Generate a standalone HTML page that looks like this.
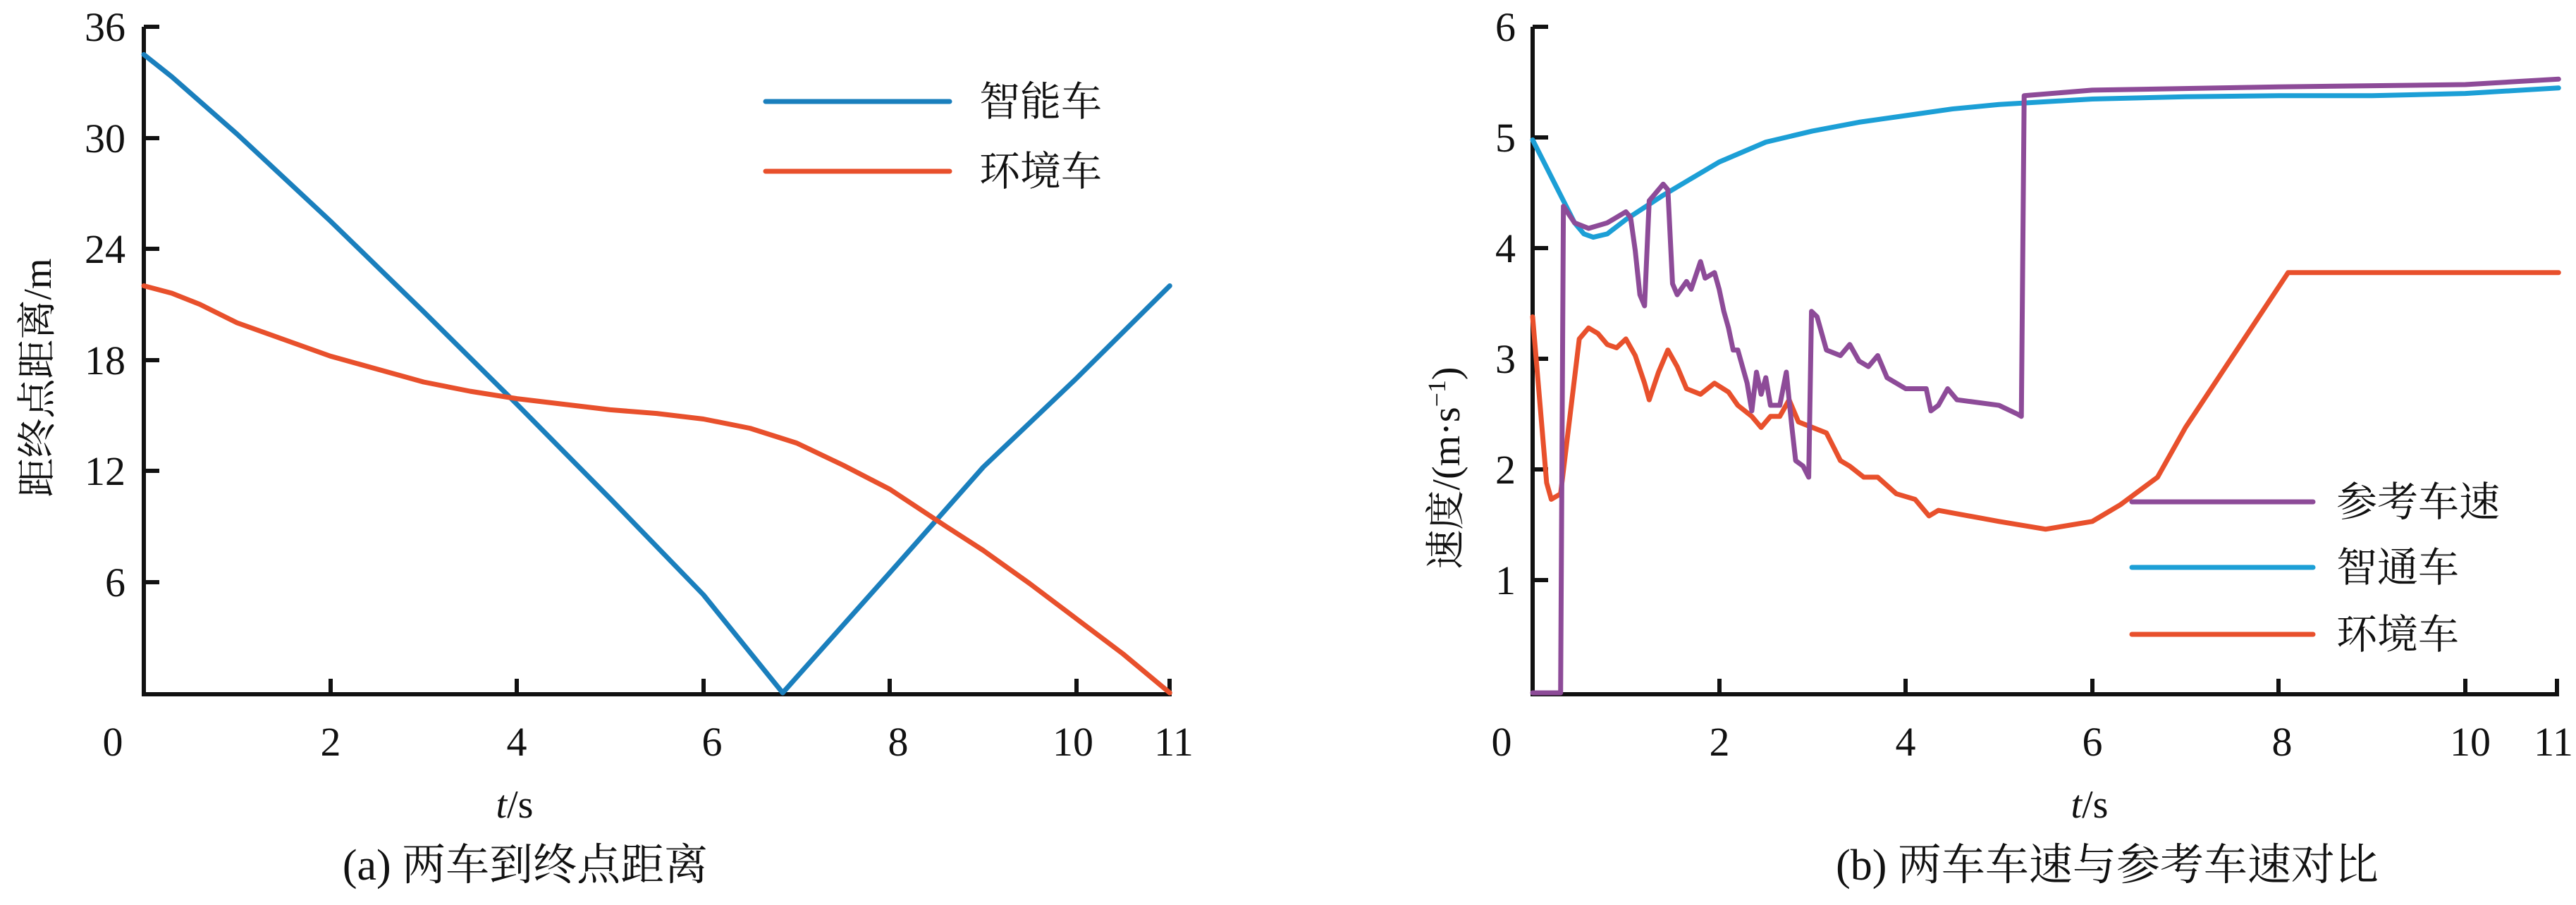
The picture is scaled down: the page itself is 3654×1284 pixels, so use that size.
<!DOCTYPE html>
<html><head><meta charset="utf-8"><style>
html,body{margin:0;padding:0;background:#fff}
svg{display:block}
text{font-family:"Liberation Serif","Noto Serif CJK SC",serif;fill:#111}
.ln{fill:none;vector-effect:non-scaling-stroke;stroke-width:7;stroke-linejoin:round;stroke-linecap:round}
</style></head><body>
<svg width="3654" height="1284" viewBox="0 0 3654 1284" xmlns="http://www.w3.org/2000/svg">
<!-- LEFT PLOT -->
<g stroke="#111" stroke-width="6" fill="none">
<path d="M204 38 V985 H1662"/>
<path d="M204 38h22M204 196h22M204 353h22M204 511h22M204 668h22M204 826h22"/>
<path d="M469 985v-22M733 985v-22M998 985v-22M1262 985v-22M1527 985v-22M1659 985v-22"/>
</g>
<g font-size="58" text-anchor="end">
<text x="178" y="58">36</text><text x="178" y="216">30</text><text x="178" y="373">24</text>
<text x="178" y="531">18</text><text x="178" y="688">12</text><text x="178" y="846">6</text>
</g>
<g font-size="58" text-anchor="middle">
<text x="160" y="1072">0</text><text x="469" y="1072">2</text><text x="733" y="1072">4</text>
<text x="1010" y="1072">6</text><text x="1274" y="1072">8</text><text x="1522" y="1072">10</text><text x="1665" y="1072">11</text>
</g>
<text x="0" y="0" font-size="56" text-anchor="middle" transform="translate(72,536) rotate(-90)">距终点距离/m</text>
<text x="730" y="1160" font-size="56" text-anchor="middle"><tspan font-style="italic">t</tspan>/s</text>
<text x="745" y="1248" font-size="62" text-anchor="middle">(a) 两车到终点距离</text>
<g transform="translate(204,983) scale(132.3,-26.25)">
<polyline class="ln" stroke="#1a7fbd" points="0,34.5 0.3,33.3 1,30.2 2,25.5 3,20.6 4,15.6 5,10.5 6,5.3 6.85,0 8,6.5 9,12.2 10,17 11,22"/>
<polyline class="ln" stroke="#e8502c" points="0,22 0.3,21.6 0.6,21 1,20 1.5,19.1 2,18.2 2.5,17.5 3,16.8 3.5,16.3 4,15.9 4.5,15.6 5,15.3 5.5,15.1 6,14.8 6.5,14.3 7,13.5 7.5,12.3 8,11 8.6,9 9,7.7 9.5,5.9 10,4 10.5,2.1 11,0"/>
</g>
<g>
<line class="ln" x1="1086" y1="144" x2="1347" y2="144" stroke="#1a7fbd"/>
<line class="ln" x1="1086" y1="243" x2="1347" y2="243" stroke="#e8502c"/>
<text x="1389" y="164" font-size="58">智能车</text>
<text x="1389" y="263" font-size="58">环境车</text>
</g>

<!-- RIGHT PLOT -->
<g stroke="#111" stroke-width="6" fill="none">
<path d="M2174 38 V985 H3630"/>
<path d="M2174 38h22M2174 195h22M2174 352h22M2174 509h22M2174 666h22M2174 823h22"/>
<path d="M2439 985v-22M2703 985v-22M2968 985v-22M3232 985v-22M3497 985v-22M3627 985v-22"/>
</g>
<g font-size="58" text-anchor="end">
<text x="2150" y="58">6</text><text x="2150" y="215">5</text><text x="2150" y="372">4</text>
<text x="2150" y="529">3</text><text x="2150" y="686">2</text><text x="2150" y="843">1</text>
</g>
<g font-size="58" text-anchor="middle">
<text x="2130" y="1072">0</text><text x="2439" y="1072">2</text><text x="2703" y="1072">4</text>
<text x="2968" y="1072">6</text><text x="3237" y="1072">8</text><text x="3504" y="1072">10</text><text x="3622" y="1072">11</text>
</g>
<text x="0" y="0" font-size="56" text-anchor="middle" transform="translate(2070,664) rotate(-90)">速度/(m·s<tspan font-size="36" dy="-20">−1</tspan><tspan dy="20">)</tspan></text>
<text x="2964" y="1160" font-size="56" text-anchor="middle"><tspan font-style="italic">t</tspan>/s</text>
<text x="2989" y="1248" font-size="62" text-anchor="middle">(b) 两车车速与参考车速对比</text>
<g transform="translate(2174,983) scale(132.3,-156.9)">
<polyline class="ln" stroke="#1c9fd6" points="0,5 0.15,4.75 0.3,4.5 0.45,4.25 0.55,4.15 0.65,4.12 0.8,4.15 1,4.28 1.4,4.5 1.7,4.65 2,4.8 2.5,4.98 3,5.08 3.5,5.16 4,5.22 4.5,5.28 5,5.32 6,5.37 7,5.39 8,5.4 9,5.4 10,5.42 11,5.47"/>
<polyline class="ln" stroke="#e8502c" points="0,3.4 0.1,2.4 0.15,1.9 0.2,1.75 0.3,1.8 0.4,2.5 0.5,3.2 0.6,3.3 0.7,3.25 0.8,3.15 0.9,3.12 1,3.2 1.1,3.05 1.2,2.8 1.25,2.65 1.35,2.9 1.45,3.1 1.55,2.95 1.65,2.75 1.8,2.7 1.95,2.8 2.1,2.72 2.2,2.6 2.35,2.5 2.45,2.4 2.55,2.5 2.65,2.5 2.75,2.65 2.85,2.45 3,2.4 3.15,2.35 3.3,2.1 3.4,2.05 3.55,1.95 3.7,1.95 3.9,1.8 4.1,1.75 4.25,1.6 4.35,1.65 5,1.55 5.5,1.48 6,1.55 6.3,1.7 6.7,1.95 7,2.4 8.1,3.8 11,3.8"/>
<polyline class="ln" stroke="#8d4b98" points="0,0 0.3,0 0.33,4.4 0.45,4.25 0.6,4.2 0.8,4.25 1,4.35 1.05,4.3 1.1,4 1.15,3.6 1.2,3.5 1.25,4.45 1.3,4.5 1.4,4.6 1.45,4.55 1.5,3.7 1.55,3.6 1.65,3.72 1.7,3.65 1.8,3.9 1.85,3.75 1.95,3.8 2,3.65 2.05,3.45 2.1,3.3 2.15,3.1 2.2,3.1 2.3,2.8 2.35,2.55 2.4,2.9 2.45,2.7 2.5,2.85 2.55,2.6 2.65,2.6 2.72,2.9 2.78,2.4 2.82,2.1 2.9,2.05 2.96,1.95 2.99,3.45 3.05,3.4 3.15,3.1 3.3,3.05 3.4,3.15 3.5,3 3.6,2.95 3.7,3.05 3.8,2.85 4,2.75 4.22,2.75 4.27,2.55 4.35,2.6 4.45,2.75 4.55,2.65 5,2.6 5.2,2.52 5.24,2.5 5.27,5.4 6,5.45 8,5.48 10,5.5 11,5.55"/>
</g>
<g>
<line class="ln" x1="3024" y1="712" x2="3281" y2="712" stroke="#8d4b98"/>
<line class="ln" x1="3024" y1="805" x2="3281" y2="805" stroke="#1c9fd6"/>
<line class="ln" x1="3024" y1="900" x2="3281" y2="900" stroke="#e8502c"/>
<text x="3314" y="732" font-size="58">参考车速</text>
<text x="3314" y="825" font-size="58">智通车</text>
<text x="3314" y="920" font-size="58">环境车</text>
</g>
</svg>
</body></html>
